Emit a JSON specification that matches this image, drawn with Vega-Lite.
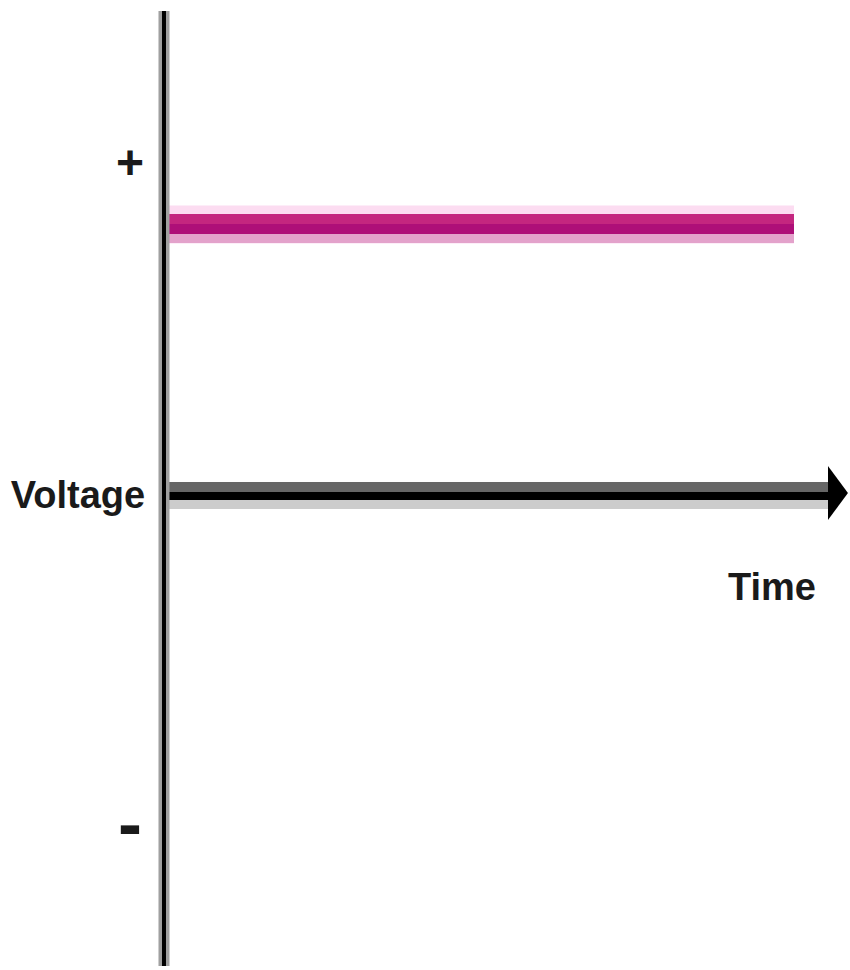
{
  "$schema": "https://vega.github.io/schema/vega-lite/v6.json",
  "width": 850,
  "height": 970,
  "padding": 0,
  "autosize": {"type": "none"},
  "background": "white",
  "config": {"view": {"stroke": null}},
  "datasets": {
    "vaxis": [{"time": 0, "v_top": 1.783, "v_bottom": -1.728}],
    "taxis": [{"t_start": 0.03, "t_end": 10.6, "voltage": 0}],
    "arrow": [{"time": 10.698, "voltage": 0}],
    "signal": [{"t_start": 0.03, "t_end": 10.0, "voltage": 1}],
    "labels": [
      {"label": "Voltage", "time": -1.365, "voltage": -0.044},
      {"label": "Time", "time": 9.65, "voltage": -0.382},
      {"label": "+", "time": -0.54, "voltage": 1.165},
      {"label": "-", "time": -0.54, "voltage": -1.294}
    ]
  },
  "layer": [
    {
      "data": {"name": "signal"},
      "mark": {"type": "rule", "color": "#fcdcf1", "strokeWidth": 38, "strokeCap": "butt", "yOffset": 0.5},
      "encoding": {
        "x": {"field": "t_start", "type": "quantitative", "scale": {"domain": [-2.603, 10.889], "nice": false, "zero": false}, "axis": null},
        "x2": {"field": "t_end"},
        "y": {"field": "voltage", "type": "quantitative", "scale": {"domain": [-1.7426, 1.8235], "nice": false, "zero": false}, "axis": null}
      }
    },
    {
      "data": {"name": "signal"},
      "mark": {"type": "rule", "color": "#e3a2cb", "strokeWidth": 9, "strokeCap": "butt", "yOffset": 14.5},
      "encoding": {
        "x": {"field": "t_start", "type": "quantitative"},
        "x2": {"field": "t_end"},
        "y": {"field": "voltage", "type": "quantitative"}
      }
    },
    {
      "data": {"name": "signal"},
      "mark": {"type": "rule", "color": "#c4267f", "strokeWidth": 10, "strokeCap": "butt", "yOffset": -5},
      "encoding": {
        "x": {"field": "t_start", "type": "quantitative"},
        "x2": {"field": "t_end"},
        "y": {"field": "voltage", "type": "quantitative"}
      }
    },
    {
      "data": {"name": "signal"},
      "mark": {"type": "rule", "color": "#ae0f78", "strokeWidth": 10, "strokeCap": "butt", "yOffset": 5},
      "encoding": {
        "x": {"field": "t_start", "type": "quantitative"},
        "x2": {"field": "t_end"},
        "y": {"field": "voltage", "type": "quantitative"}
      }
    },
    {
      "data": {"name": "taxis"},
      "mark": {"type": "rule", "color": "#666666", "strokeWidth": 10, "strokeCap": "butt", "yOffset": -9},
      "encoding": {
        "x": {"field": "t_start", "type": "quantitative"},
        "x2": {"field": "t_end"},
        "y": {"field": "voltage", "type": "quantitative"}
      }
    },
    {
      "data": {"name": "taxis"},
      "mark": {"type": "rule", "color": "#cccccc", "strokeWidth": 9, "strokeCap": "butt", "yOffset": 8.5},
      "encoding": {
        "x": {"field": "t_start", "type": "quantitative"},
        "x2": {"field": "t_end"},
        "y": {"field": "voltage", "type": "quantitative"}
      }
    },
    {
      "data": {"name": "taxis"},
      "mark": {"type": "rule", "color": "#000000", "strokeWidth": 8, "strokeCap": "butt"},
      "encoding": {
        "x": {"field": "t_start", "type": "quantitative"},
        "x2": {"field": "t_end"},
        "y": {"field": "voltage", "type": "quantitative"}
      }
    },
    {
      "data": {"name": "arrow"},
      "mark": {"type": "point", "filled": true, "color": "#000000", "opacity": 1, "size": 2916, "shape": "M-0.37,-1L0.37,0L-0.37,1Z", "yOffset": -3},
      "encoding": {
        "x": {"field": "time", "type": "quantitative"},
        "y": {"field": "voltage", "type": "quantitative"}
      }
    },
    {
      "data": {"name": "vaxis"},
      "mark": {"type": "rule", "color": "#a0a0a0", "strokeWidth": 11, "strokeCap": "butt"},
      "encoding": {
        "x": {"field": "time", "type": "quantitative"},
        "y": {"field": "v_top", "type": "quantitative"},
        "y2": {"field": "v_bottom"}
      }
    },
    {
      "data": {"name": "vaxis"},
      "mark": {"type": "rule", "color": "#000000", "strokeWidth": 4, "strokeCap": "butt"},
      "encoding": {
        "x": {"field": "time", "type": "quantitative"},
        "y": {"field": "v_top", "type": "quantitative"},
        "y2": {"field": "v_bottom"}
      }
    },
    {
      "data": {"name": "labels"},
      "transform": [{"filter": "datum.label == 'Voltage' || datum.label == 'Time'"}],
      "mark": {"type": "text", "font": "Liberation Sans", "fontWeight": "bold", "fontSize": 38, "color": "#1a1a1a", "align": "center", "baseline": "alphabetic"},
      "encoding": {
        "x": {"field": "time", "type": "quantitative"},
        "y": {"field": "voltage", "type": "quantitative"},
        "text": {"field": "label"}
      }
    },
    {
      "data": {"name": "labels"},
      "transform": [{"filter": "datum.label == '+'"}],
      "mark": {"type": "text", "font": "Liberation Sans", "fontWeight": "bold", "fontSize": 48, "color": "#1a1a1a", "align": "center", "baseline": "alphabetic"},
      "encoding": {
        "x": {"field": "time", "type": "quantitative"},
        "y": {"field": "voltage", "type": "quantitative"},
        "text": {"field": "label"}
      }
    },
    {
      "data": {"name": "labels"},
      "transform": [{"filter": "datum.label == '-'"}],
      "mark": {"type": "text", "font": "Liberation Sans", "fontWeight": "bold", "fontSize": 72, "color": "#1a1a1a", "align": "center", "baseline": "alphabetic"},
      "encoding": {
        "x": {"field": "time", "type": "quantitative"},
        "y": {"field": "voltage", "type": "quantitative"},
        "text": {"field": "label"}
      }
    }
  ]
}
